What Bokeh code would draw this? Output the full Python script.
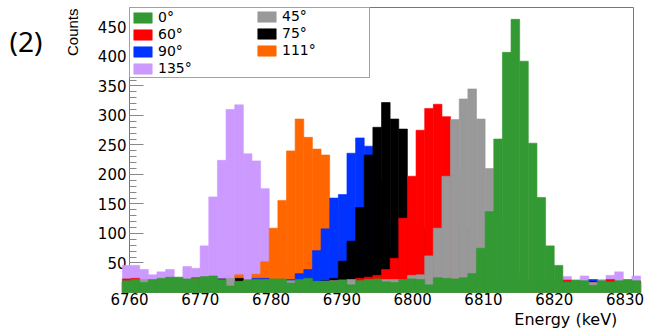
import math
from bokeh.plotting import figure
from bokeh.layouts import row, column
from bokeh.models import Range1d, FixedTicker, Legend, LegendItem, Label
from bokeh.embed import file_html
from bokeh.resources import INLINE

# ---- data ----
bin_start = 6759.0
bin_width = 1.22
n_bins = 60

labels = ["0°", "45°", "60°", "75°", "90°", "111°", "135°"]
colors = ["#339933", "#999999", "#ff0000", "#000000", "#0033ff", "#ff6600", "#cc99ff"]

counts_0 = [20, 22, 17, 22, 24, 26, 26, 23, 24, 27,
            28, 22, 11, 19, 21, 22, 22, 23, 23, 16,
            22, 24, 19, 19, 19, 21, 13, 20, 22, 23,
            18, 17, 22, 23, 22, 13, 25, 24, 23, 25,
            32, 75, 137, 260, 407, 463, 392, 253, 161, 79,
            46, 18, 21, 20, 12, 20, 18, 20, 22, 20]
counts_45 = [18, 17, 22, 18, 19, 20, 20, 21, 18, 20,
             21, 20, 24, 18, 19, 20, 19, 20, 19, 20,
             20, 19, 18, 19, 20, 21, 22, 19, 21, 22,
             22, 22, 21, 29, 30, 62, 109, 197, 293, 328,
             345, 294, 210, 120, 60, 32, 20, 18, 17, 16,
             18, 17, 16, 18, 17, 16, 17, 18, 17, 16]
counts_60 = [23, 24, 18, 19, 18, 19, 20, 19, 25, 18,
             19, 18, 19, 18, 17, 18, 19, 18, 17, 18,
             18, 19, 18, 18, 19, 20, 21, 24, 26, 29,
             39, 58, 126, 197, 275, 312, 319, 298, 200, 110,
             50, 25, 19, 18, 17, 18, 17, 18, 17, 18,
             17, 21, 17, 18, 17, 18, 22, 18, 17, 18]
counts_75 = [18, 17, 18, 19, 18, 17, 18, 19, 18, 17,
             18, 23, 18, 24, 18, 17, 18, 17, 18, 17,
             18, 17, 18, 20, 24, 53, 87, 144, 233, 280,
             322, 294, 277, 190, 110, 55, 30, 19, 18, 17,
             18, 17, 18, 17, 18, 17, 18, 17, 18, 17,
             18, 17, 18, 17, 18, 17, 18, 17, 18, 17]
counts_90 = [18, 17, 18, 17, 18, 17, 18, 17, 18, 17,
             18, 17, 18, 17, 18, 24, 24, 18, 17, 22,
             32, 39, 71, 108, 160, 166, 236, 262, 248, 190,
             120, 70, 40, 25, 19, 18, 17, 18, 17, 18,
             17, 18, 17, 18, 17, 18, 17, 18, 17, 18,
             17, 18, 17, 18, 22, 18, 17, 18, 17, 18]
counts_111 = [18, 17, 18, 17, 18, 17, 18, 17, 18, 17,
              18, 17, 18, 30, 22, 31, 52, 109, 156, 240,
              294, 263, 243, 233, 140, 80, 40, 25, 19, 18,
              17, 18, 17, 18, 17, 18, 17, 18, 17, 18,
              17, 18, 17, 18, 17, 18, 17, 18, 17, 18,
              17, 18, 17, 18, 17, 18, 17, 18, 17, 18]
counts_135 = [46, 46, 39, 30, 35, 39, 24, 44, 41, 79,
              162, 224, 310, 318, 235, 223, 176, 100, 50, 25,
              19, 18, 17, 18, 17, 18, 17, 18, 17, 18,
              17, 18, 17, 18, 17, 18, 17, 18, 17, 18,
              17, 18, 17, 18, 17, 18, 17, 18, 17, 18,
              19, 27, 21, 28, 21, 22, 29, 35, 22, 28]

x_ticks = [6760, 6770, 6780, 6790, 6800, 6810, 6820, 6830]
y_ticks = [50, 100, 150, 200, 250, 300, 350, 400, 450]
y_minor = list(range(0, 490, 10))

series = [counts_0, counts_45, counts_60, counts_75, counts_90, counts_111, counts_135]

edges = [bin_start + bin_width * k for k in range(n_bins + 1)]
left_e = edges[:-1]
right_e = edges[1:]

FONT = "DejaVu Sans"

# ---- left strip with panel tag and y title ----
L_W, TOTAL_H = 88, 328
pl = figure(width=L_W, height=TOTAL_H, output_backend="svg", toolbar_location=None,
            x_range=Range1d(0, L_W), y_range=Range1d(0, TOTAL_H),
            x_axis_type=None, y_axis_type=None,
            min_border=0, min_border_left=0, min_border_right=0,
            min_border_top=0, min_border_bottom=0)
pl.outline_line_color = None
pl.background_fill_color = "white"
pl.border_fill_color = "white"
pl.add_layout(Label(x=9, y=TOTAL_H - 40, text="(2)", text_align="left",
                    text_baseline="alphabetic", text_font="Noto Sans",
                    text_font_size="28px", text_color="black"))
pl.add_layout(Label(x=72, y=TOTAL_H - 8, text="Counts", angle=math.pi / 2,
                    text_align="right", text_baseline="alphabetic",
                    text_font="Liberation Sans", text_font_size="15px",
                    text_color="black"))

# ---- main plot ----
M_W, M_H = 650 - L_W, 309
BOT = 17
p = figure(width=M_W, height=M_H, output_backend="svg", toolbar_location=None,
           x_range=Range1d(6760, 6831.2), y_range=Range1d(0, 483),
           min_border_left=41, min_border_right=17, min_border_top=7, min_border_bottom=BOT)
p.xgrid.visible = False
p.ygrid.visible = False
p.outline_line_color = "#777777"
p.outline_line_width = 1
p.background_fill_color = "white"
p.border_fill_color = "white"

renderers = [None] * 7
for i in [6, 5, 4, 3, 2, 1, 0]:
    r = p.quad(left=left_e, right=right_e, bottom=0, top=series[i],
               fill_color=colors[i], line_color=colors[i], line_width=0.6,
               level="annotation")
    renderers[i] = r

p.xaxis.ticker = FixedTicker(ticks=x_ticks)
p.xaxis.major_tick_in = 0
p.xaxis.major_tick_out = 0
p.xaxis.minor_tick_in = 0
p.xaxis.minor_tick_out = 0
p.xaxis.axis_line_color = "#bbbbbb"
p.xaxis.major_label_standoff = 0

p.yaxis.ticker = FixedTicker(ticks=y_ticks, minor_ticks=y_minor)
p.yaxis.major_tick_in = 14
p.yaxis.major_tick_out = 0
p.yaxis.minor_tick_in = 7
p.yaxis.minor_tick_out = 0
p.yaxis.major_tick_line_color = "#888888"
p.yaxis.minor_tick_line_color = "#888888"
p.yaxis.axis_line_color = "#777777"
p.yaxis.major_label_standoff = 3

p.axis.major_label_text_font = FONT
p.axis.major_label_text_font_size = "15px"
p.axis.major_label_text_color = "black"

FRAME_H = M_H - 7 - BOT
common = dict(margin=0, padding=1, spacing=1, glyph_width=23, glyph_height=13,
              label_height=14, label_standoff=4,
              label_text_font=FONT, label_text_font_size="14px",
              label_text_color="black", level="overlay")
leg_a = Legend(items=[LegendItem(label=labels[i], renderers=[renderers[i]]) for i in [0, 2, 4, 6]],
               location="top_left", label_width=210,
               border_line_color="#444444", border_line_width=1,
               background_fill_color="white", background_fill_alpha=1, **common)
leg_b = Legend(items=[LegendItem(label=labels[i], renderers=[renderers[i]]) for i in [1, 3, 5]],
               location=(125, FRAME_H - 52), label_width=60,
               border_line_alpha=0, background_fill_alpha=0, **common)
p.add_layout(leg_a, "center")
p.add_layout(leg_b, "center")

# ---- bottom strip with x title ----
E_H = TOTAL_H - M_H
pe = figure(width=M_W, height=E_H, output_backend="svg", toolbar_location=None,
            x_range=Range1d(0, M_W), y_range=Range1d(0, E_H),
            x_axis_type=None, y_axis_type=None,
            min_border=0, min_border_left=0, min_border_right=0,
            min_border_top=0, min_border_bottom=0)
pe.outline_line_color = None
pe.background_fill_color = "white"
pe.border_fill_color = "white"
pe.add_layout(Label(x=632 - L_W, y=0, text="Energy (keV)", text_align="right",
                    text_baseline="bottom", text_font=FONT,
                    text_font_size="16px", text_color="black"))

layout = row(pl, column(p, pe, spacing=0), spacing=0)
open("out.html", "w").write(file_html(layout, INLINE))
